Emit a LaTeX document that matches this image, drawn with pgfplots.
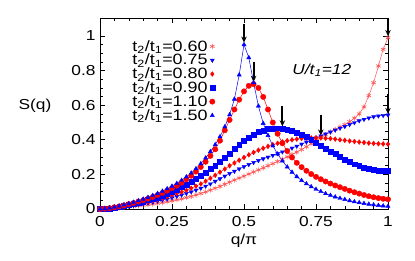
\documentclass[border=0pt]{standalone}
\usepackage{fontspec}
\setmainfont[FakeStretch=1.2]{Liberation Sans}
\usepackage{pgfplots}
\pgfplotsset{compat=1.18}
\usepackage{pgfplotstable}
\usetikzlibrary{arrows.meta}
\definecolor{gred}{RGB}{255,0,0}
\definecolor{gblue}{RGB}{0,0,255}
\definecolor{gpink}{RGB}{255,80,80}

\pgfplotstableread{
q s060 s075 s080 s090 s110 s150
0 0 0 0 0 0 0
0.0167 .001 .001 .001 .001 .002 .002
0.0333 .003 .003 .003 .004 .005 .006
0.05 .005 .006 .007 .008 .010 .011
0.0667 .007 .009 .011 .012 .015 .017
0.0833 .010 .013 .015 .017 .021 .024
0.1 .013 .017 .020 .023 .028 .031
0.1167 .016 .021 .025 .029 .035 .039
0.1333 .019 .025 .030 .036 .043 .048
0.15 .022 .030 .036 .043 .051 .057
0.1667 .026 .035 .042 .051 .060 .067
0.1833 .029 .040 .049 .059 .070 .078
0.2 .033 .046 .056 .068 .081 .090
0.2167 .037 .052 .063 .078 .093 .103
0.2333 .042 .058 .071 .089 .106 .117
0.25 .048 .065 .080 .100 .120 .132
0.2667 .053 .073 .089 .113 .135 .148
0.2833 .059 .081 .098 .127 .152 .166
0.3 .066 .090 .108 .142 .171 .186
0.3167 .073 .099 .120 .158 .192 .208
0.3333 .081 .109 .132 .175 .216 .233
0.35 .090 .120 .145 .193 .243 .262
0.3667 .099 .132 .161 .212 .273 .295
0.3833 .109 .145 .178 .232 .307 .332
0.4 .120 .160 .195 .253 .345 .372
0.4167 .131 .175 .213 .275 .395 .418
0.4333 .143 .190 .231 .298 .455 .475
0.45 .155 .205 .250 .322 .515 .545
0.4667 .167 .218 .266 .346 .575 .635
0.4833 .179 .232 .282 .370 .632 .775
0.5 .190 .245 .298 .392 .680 .950
0.5167 .202 .257 .313 .412 .712 .875
0.5333 .214 .269 .327 .430 .722 .730
0.55 .226 .280 .340 .444 .700 .595
0.5667 .238 .290 .351 .455 .648 .495
0.5833 .250 .300 .362 .462 .575 .425
0.6 .262 .310 .372 .466 .500 .365
0.6167 .275 .320 .380 .467 .435 .318
0.6333 .288 .330 .388 .465 .380 .278
0.65 .301 .340 .395 .460 .335 .243
0.6667 .315 .352 .400 .452 .298 .213
0.6833 .329 .363 .404 .442 .267 .187
0.7 .344 .375 .408 .430 .242 .165
0.7167 .360 .387 .410 .416 .221 .146
0.7333 .377 .398 .411 .401 .202 .129
0.75 .395 .410 .412 .385 .186 .114
0.7667 .412 .422 .411 .368 .172 .101
0.7833 .429 .434 .409 .351 .159 .089
0.8 .445 .445 .407 .334 .147 .079
0.8167 .460 .456 .404 .317 .136 .070
0.8333 .474 .467 .400 .301 .126 .062
0.85 .488 .477 .397 .286 .116 .055
0.8667 .505 .488 .393 .272 .106 .048
0.8833 .525 .499 .390 .259 .097 .042
0.9 .550 .510 .387 .248 .089 .037
0.9167 .590 .518 .384 .239 .081 .032
0.9333 .655 .526 .381 .232 .074 .028
0.95 .730 .533 .379 .226 .068 .024
0.9667 .827 .538 .377 .222 .063 .021
0.9833 .923 .541 .376 .220 .059 .018
1 .990 .543 .375 .219 .056 .016
}\data

\begin{document}
\begin{tikzpicture}[font=\fontsize{14.5}{17}\selectfont]
\path[use as bounding box] (-100bp,-52bp) rectangle (315bp,209bp);
\begin{axis}[
  scale only axis, width=288bp, height=191bp,
  at={(0,0)}, anchor=south west,
  xmin=0, xmax=1, ymin=0, ymax=1.104,
  xtick={0,0.25,0.5,0.75,1}, xticklabels={0,0.25,0.5,0.75,1},
  ytick={0,0.2,0.4,0.6,0.8,1}, yticklabels={0,0.2,0.4,0.6,0.8,1},
  minor x tick num=4, minor y tick num=3,
  tick align=inside, major tick length=5.5bp, minor tick length=3bp,
  every tick/.style={black, line width=0.6pt},
  axis line style={line width=0.8pt},
  tick label style={font=\fontsize{14.5}{17}\selectfont},
  xticklabel style={yshift=-4bp},
  yticklabel style={xshift=-1bp},
  clip=false,
  legend cell align=right,
  legend plot pos=right,
  legend style={draw=none, fill=none, at={(rel axis cs:0.40,0.895)}, anchor=north east,
    inner sep=0pt, row sep=-2.5bp, font=\fontsize{15}{17}\selectfont},
]
% lines
\addplot[gpink, line width=0.5pt, forget plot] table[x=q,y=s060] {\data};
\addplot[gblue, line width=0.4pt, forget plot] table[x=q,y=s075] {\data};
\addplot[gred, line width=0.4pt, forget plot] table[x=q,y=s080] {\data};
\addplot[gblue, line width=0.4pt, forget plot] table[x=q,y=s090] {\data};
\addplot[gred, line width=0.5pt, forget plot] table[x=q,y=s110] {\data};
\addplot[gblue, line width=0.5pt, forget plot] table[x=q,y=s150] {\data};
% marks
\addplot[only marks, gpink, mark=asterisk, mark size=2.6pt, mark options={line width=0.6pt}] table[x=q,y=s060] {\data};
\addlegendentry{t\textsubscript{2}/t\textsubscript{1}=0.60}
\addplot[only marks, gblue, mark=triangle*, mark size=2.3pt, mark options={rotate=180}] table[x=q,y=s075] {\data};
\addlegendentry{t\textsubscript{2}/t\textsubscript{1}=0.75}
\addplot[only marks, gred, mark=diamond*, mark size=2.4pt] table[x=q,y=s080] {\data};
\addlegendentry{t\textsubscript{2}/t\textsubscript{1}=0.80}
\addplot[only marks, gblue, mark=square*, mark size=2.5pt] table[x=q,y=s090] {\data};
\addlegendentry{t\textsubscript{2}/t\textsubscript{1}=0.90}
\addplot[only marks, gred, mark=*, mark size=2.7pt] table[x=q,y=s110] {\data};
\addlegendentry{t\textsubscript{2}/t\textsubscript{1}=1.10}
\addplot[only marks, gblue, mark=triangle*, mark size=2.4pt] table[x=q,y=s150] {\data};
\addlegendentry{t\textsubscript{2}/t\textsubscript{1}=1.50}
% arrows
\tikzset{garrow/.style={-{Stealth[length=6bp,width=5.5bp]}, line width=2bp}}
\draw[garrow] (axis cs:0.5,1.07) -- (axis cs:0.5,0.962);
\draw[garrow] (axis cs:0.5333,0.85) -- (axis cs:0.5333,0.735);
\draw[garrow] (axis cs:0.6333,0.595) -- (axis cs:0.6333,0.478);
\draw[garrow] (axis cs:0.7667,0.545) -- (axis cs:0.7667,0.425);
\draw[garrow] (axis cs:1,1.104) -- (axis cs:1,1.0);
\draw[garrow] (axis cs:1,0.665) -- (axis cs:1,0.55);
% texts
\node at (axis cs:0.77,0.80) {\textit{U/t\textsubscript{1}=12}};
\node at (axis description cs:-0.226,0.54) {S(q)};
\node at (axis description cs:0.5,-0.168) {q/π};
\end{axis}
\end{tikzpicture}
\end{document}
